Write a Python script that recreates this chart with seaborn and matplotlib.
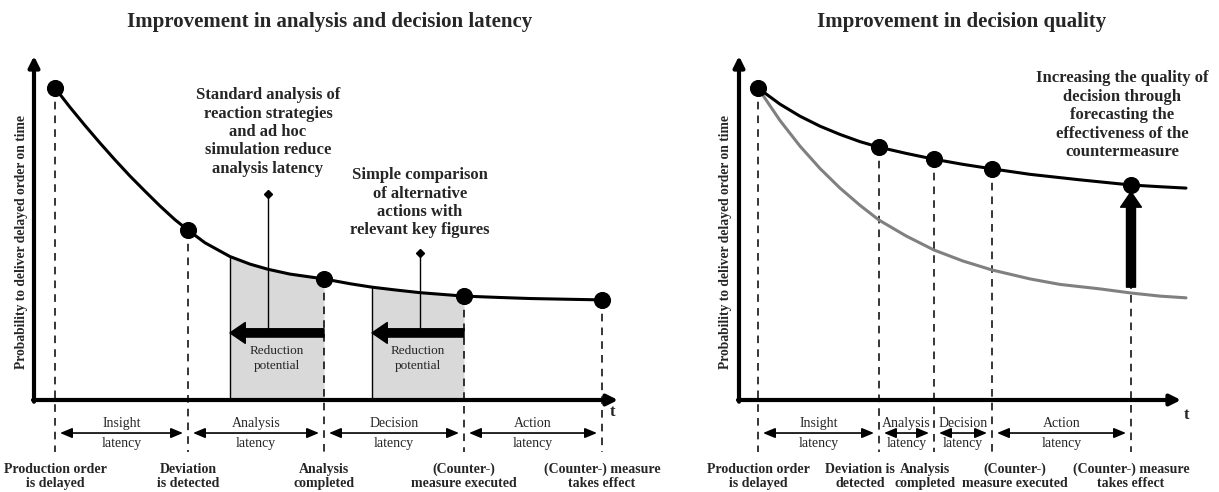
import numpy as np
import pandas as pd
import seaborn as sns
import matplotlib.pyplot as plt

# ---- data (t in arbitrary time units, p = probability) ----
# left panel: events on the original curve
left_event_t = [0.42, 3.08, 5.80, 8.60, 11.36]
left_event_p = [0.907, 0.494, 0.352, 0.302, 0.291]
# left curve samples
left_curve_t = [0.42, 0.72, 1.02, 1.32, 1.62, 1.92, 2.22, 2.52, 2.82, 3.08, 3.42, 3.92, 4.32, 4.68,
                5.12, 5.80, 6.32, 6.76, 7.22, 7.72, 8.16, 8.60, 9.32, 9.92, 10.62, 11.36]
left_curve_p = [0.907, 0.851, 0.798, 0.747, 0.698, 0.651, 0.607, 0.564, 0.524, 0.494, 0.457, 0.417, 0.395, 0.380,
                0.366, 0.352, 0.338, 0.328, 0.320, 0.312, 0.307, 0.302, 0.298, 0.295, 0.293, 0.291]
# shaded reduction potential: start of the shortened analysis / decision phase
reduced_start_t = [3.92, 6.76]

# right panel
right_event_t = [0.38, 2.80, 3.90, 5.06, 7.84]
right_event_p = [0.907, 0.735, 0.700, 0.672, 0.625]
right_curve_t = [0.38, 0.82, 1.22, 1.62, 2.02, 2.42, 2.80, 3.34, 3.90, 4.48, 5.06, 5.82, 6.82, 7.84, 8.42, 8.94]
right_curve_p = [0.907, 0.860, 0.825, 0.796, 0.772, 0.751, 0.735, 0.717, 0.700, 0.685, 0.672, 0.656, 0.640,
                 0.625, 0.620, 0.616]
grey_curve_t = [0.38, 0.82, 1.22, 1.62, 2.02, 2.42, 2.80, 3.34, 3.90, 4.48, 5.06, 5.82, 6.42, 7.22, 7.84, 8.42, 8.94]
grey_curve_p = [0.907, 0.8125, 0.738, 0.673, 0.616, 0.566, 0.523, 0.477, 0.436, 0.404, 0.378, 0.352, 0.336,
                0.323, 0.311, 0.302, 0.297]

latency_names = ["Insight", "Analysis", "Decision", "Action"]
event_labels = ["Production order\nis delayed", "Deviation\nis detected", "Analysis\ncompleted",
                "(Counter-)\nmeasure executed", "(Counter-) measure\ntakes effect"]
event_labels_right = ["Production order\nis delayed", "Deviation is\ndetected", "Analysis\ncompleted",
                      "(Counter-)\nmeasure executed", "(Counter-) measure\ntakes effect"]
ylabel = "Probability to deliver delayed order on time"

sns.set_theme(style="white")
plt.rcParams['font.family'] = ['Liberation Serif', 'DejaVu Serif']

W, H = 1219, 492
PX_T, PX_P, ORIGIN_Y = 50.0, 344.0, 400
fig = plt.figure(figsize=(W / 100, H / 100), dpi=100)


def make_axes(left_px, right_px, origin_x):
    ax = fig.add_axes([left_px / W, 0, (right_px - left_px) / W, 1])
    ax.set_xlim((left_px - origin_x) / PX_T, (right_px - origin_x) / PX_T)
    ax.set_ylim((ORIGIN_Y - H) / PX_P, ORIGIN_Y / PX_P)
    ax.axis('off')
    return ax


def axis_arrows(ax, x_tip):
    ap = dict(arrowstyle='-|>', lw=3, color='black', mutation_scale=16, shrinkA=0, shrinkB=0)
    ax.annotate('', xy=(x_tip, 0), xytext=(-0.02, 0), arrowprops=ap)
    ax.annotate('', xy=(0, 1.0), xytext=(0, -0.005), arrowprops=ap)


def event_lines(ax, ts, ps):
    for t, p in zip(ts, ps):
        ax.plot([t, t], [p, -0.151], color='black', lw=1.1, ls=(0, (5, 4)), zorder=2)


def latency_arrows(ax, ts):
    for i, name in enumerate(latency_names):
        a, b = ts[i], ts[i + 1]
        ax.annotate('', xy=(b - 0.1, -0.096), xytext=(a + 0.1, -0.096),
                    arrowprops=dict(arrowstyle='<|-|>,head_length=0.6,head_width=0.25', lw=1.2,
                                    color='black', mutation_scale=12, shrinkA=0, shrinkB=0))
        mid = (a + b) / 2
        ax.text(mid, -0.067, name, ha='center', va='center', fontsize=10)
        ax.text(mid, -0.125, "latency", ha='center', va='center', fontsize=10)


def bottom_labels(ax, xs, labels):
    for x, lab in zip(xs, labels):
        ax.text(x, -0.222, lab, ha='center', va='center', fontsize=10, fontweight='bold', linespacing=1.1)


# ---------------- left panel ----------------
axL = make_axes(0, 620, 34)
axis_arrows(axL, 11.68)

curve_l = pd.DataFrame({"t": left_curve_t, "p": left_curve_p})
for start, end in zip(reduced_start_t, left_event_t[2:4]):
    seg = curve_l[(curve_l.t >= start) & (curve_l.t <= end)]
    axL.fill_between(seg.t, 0, seg.p, color='#d9d9d9', zorder=1, lw=0)
    axL.plot([start, start], [0, seg.p.iloc[0]], color='black', lw=1, zorder=2)
    axL.annotate('', xy=(start, 0.195), xytext=(end, 0.195),
                 arrowprops=dict(arrowstyle='simple,head_length=1.1,head_width=1.5,tail_width=0.6',
                                 color='black', mutation_scale=10, shrinkA=0, shrinkB=0), zorder=4)
    axL.text((start + end) / 2, 0.121, "Reduction\npotential", ha='center', va='center',
             fontsize=9.5, linespacing=1.3, zorder=4)

event_lines(axL, left_event_t, left_event_p)
sns.lineplot(data=curve_l, x="t", y="p", color='black', lw=2.2, ax=axL, zorder=3)
sns.scatterplot(x=left_event_t, y=left_event_p, s=130, color='black', edgecolor='black', ax=axL, zorder=5)
axL.axis('off')

# pointers to the annotations
for pt, top in zip([4.68, 7.72], [0.599, 0.427]):
    axL.plot([pt, pt], [0.195, top], color='black', lw=1, zorder=3)
    axL.plot([pt], [top], marker='D', color='black', ms=4, zorder=3)
axL.text(4.68, 0.779, "Standard analysis of\nreaction strategies\nand ad hoc\nsimulation reduce\nanalysis latency",
         ha='center', va='center', fontsize=12, fontweight='bold', linespacing=1.2)
axL.text(7.72, 0.573, "Simple comparison\nof alternative\nactions with\nrelevant key figures",
         ha='center', va='center', fontsize=12, fontweight='bold', linespacing=1.2)

latency_arrows(axL, left_event_t)
bottom_labels(axL, left_event_t, event_labels)

# ---------------- right panel ----------------
axR = make_axes(620, 1219, 739)
axis_arrows(axR, 8.84)
event_lines(axR, right_event_t, right_event_p)
sns.lineplot(x=grey_curve_t, y=grey_curve_p, color='#808080', lw=2.2, ax=axR, zorder=3)
sns.lineplot(x=right_curve_t, y=right_curve_p, color='black', lw=2.2, ax=axR, zorder=3)
sns.scatterplot(x=right_event_t, y=right_event_p, s=130, color='black', edgecolor='black', ax=axR, zorder=5)
axR.axis('off')
axR.annotate('', xy=(right_event_t[4], 0.605), xytext=(right_event_t[4], 0.328),
             arrowprops=dict(arrowstyle='simple,head_length=1.1,head_width=1.5,tail_width=0.65',
                             color='black', mutation_scale=10, shrinkA=0, shrinkB=0), zorder=4)
axR.text(7.66, 0.828, "Increasing the quality of\ndecision through\nforecasting the\neffectiveness of the\ncountermeasure",
         ha='center', va='center', fontsize=12, fontweight='bold', linespacing=1.2)
latency_arrows(axR, right_event_t)
bottom_labels(axR, [0.38, 2.42, 3.72, 5.52, 7.84], event_labels_right)

# ---------------- titles and axis texts ----------------
fig.text(330 / W, 1 - 22 / H, "Improvement in analysis and decision latency", ha='center', va='center',
         fontsize=15, fontweight='bold')
fig.text(962 / W, 1 - 22 / H, "Improvement in decision quality", ha='center', va='center',
         fontsize=15, fontweight='bold')
for x in [22, 725]:
    fig.text(x / W, 1 - 242 / H, ylabel, rotation=90, ha='center', va='center', fontsize=9.8, fontweight='bold')
fig.text(612 / W, 1 - 412 / H, "t", ha='center', va='center', fontsize=12, fontweight='bold')
fig.text(1186 / W, 1 - 415 / H, "t", ha='center', va='center', fontsize=12, fontweight='bold')

fig.savefig("out.png", dpi=100)
